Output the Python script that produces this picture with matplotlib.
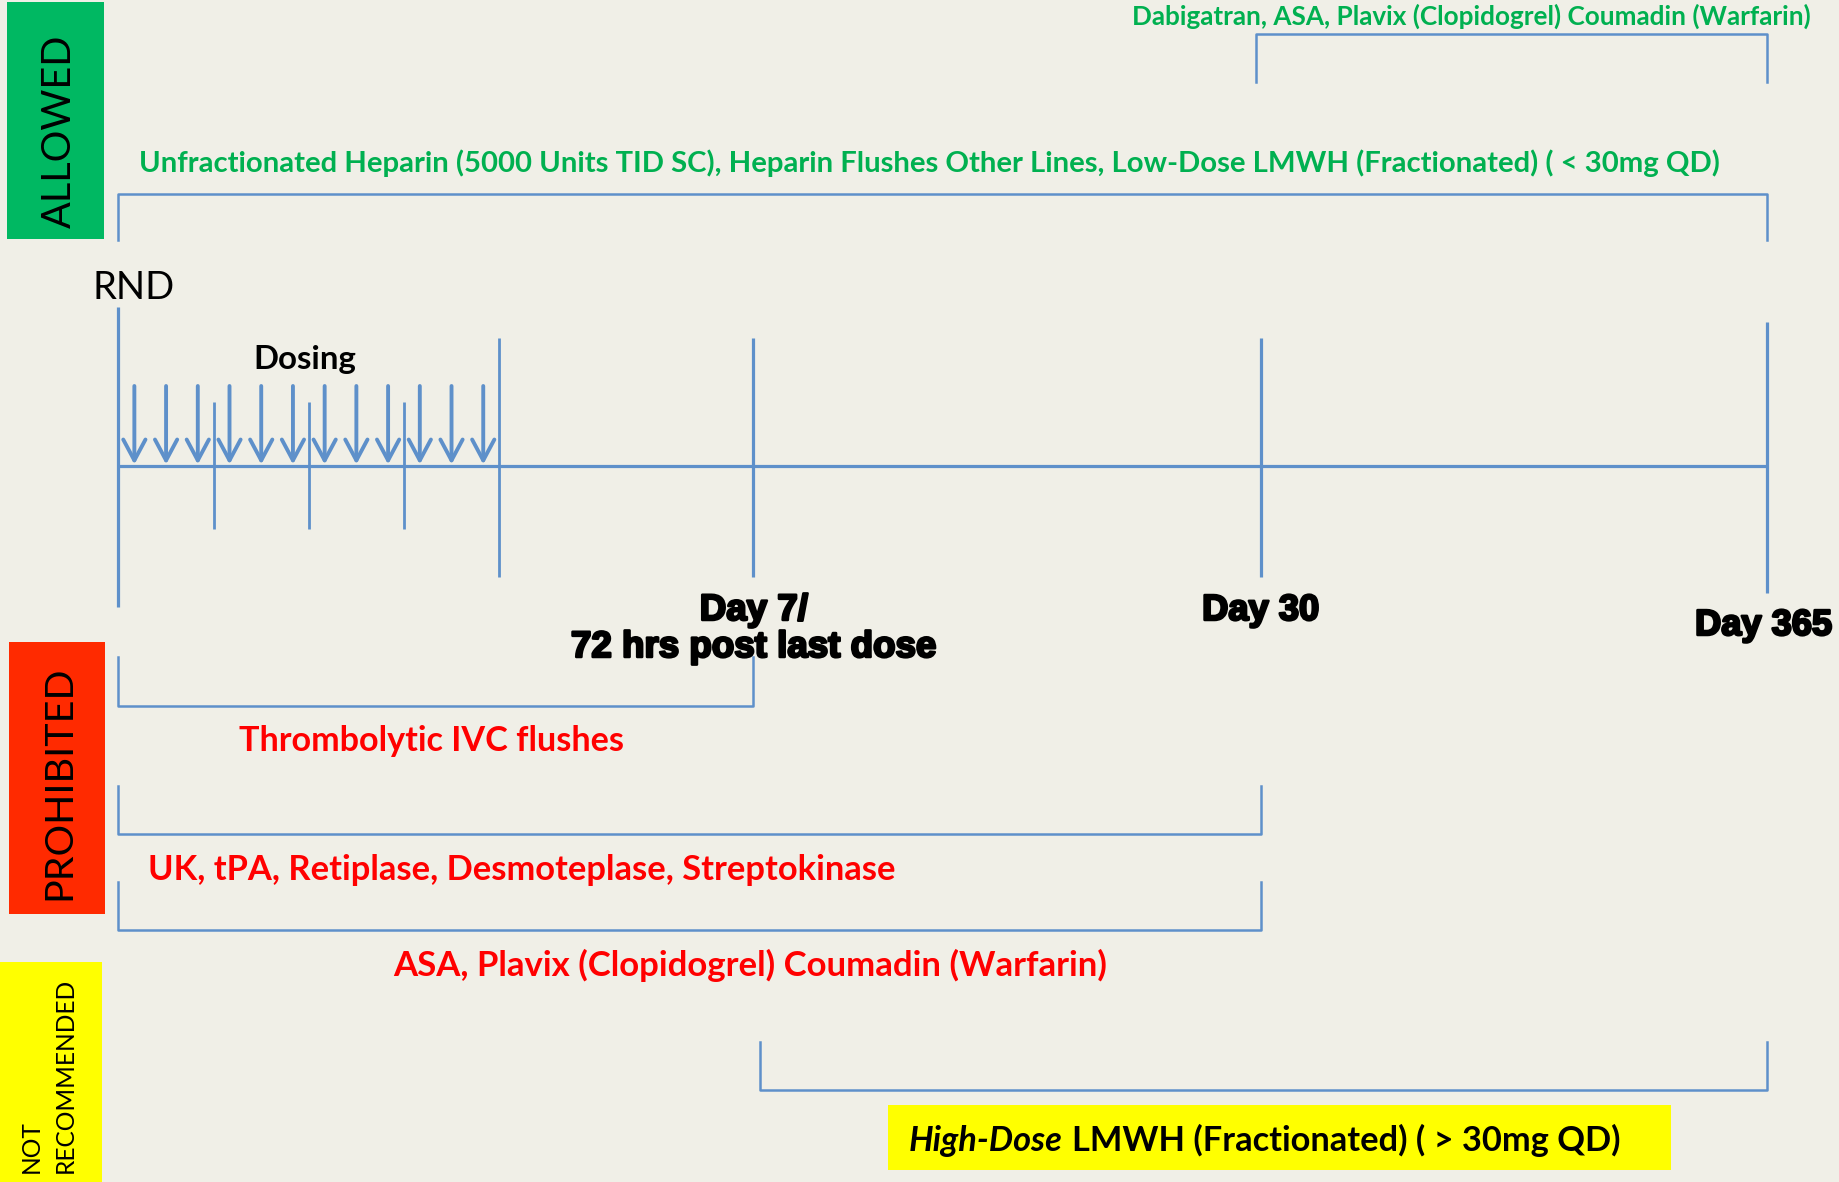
import matplotlib.pyplot as plt
from matplotlib.patches import Rectangle
import matplotlib.patheffects as pe

# chart content
categories = ['ALLOWED', 'PROHIBITED', 'NOT', 'RECOMMENDED']
milestones = ['RND', 'Day 7', 'Day 30', 'Day 365']
milestone_labels = ['RND', 'Day 7/', '72 hrs post last dose', 'Day 30', 'Day 365']
dosing_label = 'Dosing'
dosing_days = 4
doses_per_day = 3

allowed_text = ['Dabigatran, ASA, Plavix (Clopidogrel) Coumadin (Warfarin)',
                'Unfractionated Heparin (5000 Units TID SC), Heparin Flushes Other Lines, '
                'Low-Dose LMWH (Fractionated) ( < 30mg QD)']
allowed_span = [('Day 30', 'Day 365'), ('RND', 'Day 365')]

prohibited_text = ['Thrombolytic IVC flushes',
                   'UK, tPA, Retiplase, Desmoteplase, Streptokinase',
                   'ASA, Plavix (Clopidogrel) Coumadin (Warfarin)']
prohibited_span = [('RND', 'Day 7'), ('RND', 'Day 30'), ('RND', 'Day 30')]

notrec_text = ('High-Dose', 'LMWH (Fractionated) ( > 30mg QD)')
notrec_span = ('Day 7', 'Day 365')

# layout (figure pixels, y downwards)
W, H = 1839, 1182
bg = '#F0EFE7'
blue = '#5E90CA'
green_txt = '#00B050'
red_txt = '#FF0000'
mx = dict(zip(milestones, [118.5, 753, 1261, 1767]))
line_y = 465.5

fig = plt.figure(figsize=(W / 100, H / 100), dpi=100)
fig.patch.set_facecolor(bg)
ax = fig.add_axes([0, 0, 1, 1])
ax.set_xlim(0, W)
ax.set_ylim(H, 0)
ax.axis('off')
rend = fig.canvas.get_renderer()


def fit(t, size, vertical=False):
    bb = t.get_window_extent(rend)
    cur = bb.height if vertical else bb.width
    t.set_fontsize(t.get_fontsize() * size / cur)
    return t


calibri = ['Lato', 'DejaVu Sans']
heavy = dict(family='Liberation Sans', weight='bold',
             path_effects=[pe.withStroke(linewidth=1.8, foreground='black')])

# category boxes
ax.add_patch(Rectangle((7, 2), 97, 237, color='#00B862', lw=0))
ax.add_patch(Rectangle((9, 642), 96, 272, color='#FF2A00', lw=0))
ax.add_patch(Rectangle((0, 962), 102, 220, color='#FFFF00', lw=0))
fit(ax.text(59, 131, categories[0], rotation=90, ha='center', va='center',
            family=calibri, fontsize=30), 193, vertical=True)
fit(ax.text(59, 783, categories[1], rotation=90, ha='center', va='center',
            family=calibri, fontsize=30), 233, vertical=True)
t = fit(ax.text(65.5, 1173, categories[3], rotation=90, ha='center', va='bottom',
                family=calibri, fontsize=18), 195, vertical=True)
ax.text(30.8, 1173, categories[2], rotation=90, ha='center', va='bottom',
        family=calibri, fontsize=t.get_fontsize())

# timeline
ax.plot([mx['RND'], mx['Day 365']], [line_y, line_y], color=blue, lw=2.3,
        solid_capstyle='butt')
v_ext = {'RND': (307, 607), 'Day 7': (338, 577), 'Day 30': (338, 577),
         'Day 365': (322, 593)}
for m in milestones:
    ax.plot([mx[m], mx[m]], v_ext[m], color=blue, lw=2.3, solid_capstyle='butt')

# dosing period
day_w = 95.15
dose_w = day_w / doses_per_day
for d in range(1, dosing_days + 1):
    x = mx['RND'] + d * day_w
    ext = (338, 577) if d == dosing_days else (402, 529)
    ax.plot([x, x], ext, color=blue, lw=2.0, solid_capstyle='butt')
for k in range(dosing_days * doses_per_day):
    x = mx['RND'] + (k + 0.5) * dose_w
    ax.annotate('', xy=(x, line_y - 1), xytext=(x, 386),
                arrowprops=dict(arrowstyle='->,head_length=0.75,head_width=0.4',
                                color=blue, lw=2.8, mutation_scale=20,
                                shrinkA=0, shrinkB=0))
fit(ax.text(305, 369, dosing_label, ha='center', va='baseline',
            family=calibri, weight='bold', fontsize=22), 103)

# milestone labels
fit(ax.text(92.7, 299, milestone_labels[0], ha='left', va='baseline',
            family=calibri, fontsize=28), 82)
t = fit(ax.text(754, 657, milestone_labels[2], ha='center', va='baseline',
                fontsize=20, **heavy), 365)
ax.text(754, 620, milestone_labels[1], ha='center', va='baseline',
        fontsize=t.get_fontsize(), **heavy)
fit(ax.text(1260.5, 620, milestone_labels[3], ha='center', va='baseline',
            fontsize=20, **heavy), 117)
fit(ax.text(1763.5, 635, milestone_labels[4], ha='center', va='baseline',
            fontsize=20, **heavy), 137)


def bracket(x0, x1, bar, leg):
    ax.plot([x0, x0, x1, x1], [leg, bar, bar, leg], color=blue, lw=1.8)


# allowed brackets (open downwards)
a_geom = [(34, 81.7, 1471, 25, 678, 1256), (193.5, 240, 929.3, 172, 1580, None)]
for txt, (s, e), (bar, leg, cx, base, w, x0) in zip(allowed_text, allowed_span, a_geom):
    bracket(x0 if x0 else mx[s], mx[e], bar, leg)
    fit(ax.text(cx, base, txt, ha='center', va='baseline', color=green_txt,
                family=calibri, weight='bold', fontsize=20), w)

# prohibited brackets (open upwards)
p_geom = [(706, 657, 432, 751, 384), (834, 786, 521.3, 880, 749),
          (930, 882, 750.5, 976, 715)]
for txt, (s, e), (bar, leg, cx, base, w) in zip(prohibited_text, prohibited_span, p_geom):
    bracket(mx[s], mx[e], bar, leg)
    fit(ax.text(cx, base, txt, ha='center', va='baseline', color=red_txt,
                family=calibri, weight='bold', fontsize=20), w)

# not recommended
bracket(760, mx[notrec_span[1]], 1090, 1042)
ax.add_patch(Rectangle((888, 1105), 783, 65, color='#FFFF00', lw=0))
t1 = ax.text(909, 1151, notrec_text[0], ha='left', va='baseline', family=calibri,
             weight='bold', style='italic', fontsize=22)
t2 = ax.text(0, 1151, notrec_text[1], ha='left', va='baseline',
             family=calibri, weight='bold', fontsize=22)
inv = ax.transData.inverted()


def place_second():
    x_end = inv.transform((t1.get_window_extent(rend).x1, 0))[0]
    t2.set_x(x_end + 0.35 * t1.get_fontsize())


place_second()
total = t2.get_window_extent(rend).x1 - t1.get_window_extent(rend).x0
scale = (1618 - 909) / total
t1.set_fontsize(t1.get_fontsize() * scale)
t2.set_fontsize(t2.get_fontsize() * scale)
place_second()

fig.savefig('out.png', dpi=100, facecolor=bg)
